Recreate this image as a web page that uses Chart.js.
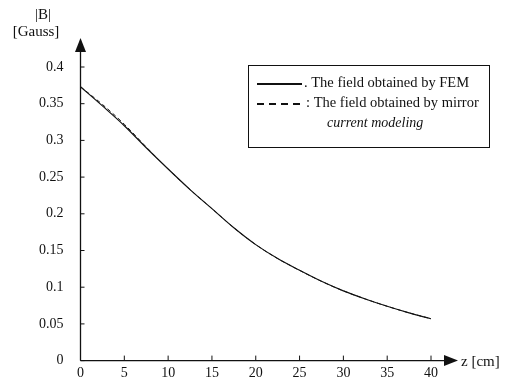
<!DOCTYPE html>
<html>
<head>
<meta charset="utf-8">
<script src="https://cdn.jsdelivr.net/npm/chart.js@4.4.1/dist/chart.umd.min.js"></script>
<style>
  html, body { margin: 0; padding: 0; background: #fff; }
  #wrap { width: 510px; height: 386px; position: relative; }
</style>
</head>
<body>
<div id="wrap"><canvas id="fieldChart"></canvas></div>
<script>
// dados (z em cm, |B| em Gauss)
const zValues = [0, 2.5, 5, 7.5, 10, 12.5, 15, 17.5, 20, 22.5, 25, 27.5, 30, 32.5, 35, 37.5, 40];
const femValues = [0.373, 0.347, 0.320, 0.290, 0.261, 0.233, 0.207, 0.181, 0.158, 0.139, 0.123, 0.108, 0.095, 0.084, 0.074, 0.065, 0.057];
const mirrorValues = [0.373, 0.349, 0.322, 0.291, 0.261, 0.233, 0.207, 0.181, 0.158, 0.139, 0.123, 0.108, 0.095, 0.084, 0.074, 0.065, 0.057];
const xTicks = [0, 5, 10, 15, 20, 25, 30, 35, 40];
const yTicks = [0, 0.05, 0.1, 0.15, 0.2, 0.25, 0.3, 0.35, 0.4];
const legendLabels = ['. The field obtained by FEM', ': The field obtained by mirror'];
const legendExtra = 'current modeling';

const serif = '"Liberation Serif", "DejaVu Serif", serif';
const ink = '#111';

function pontos(valores) {
    return zValues.map((z, i) => ({ x: z, y: valores[i] }));
}

// eixos com setas, marcas internas e caixa de legenda
const eixosPlugin = {
    id: 'eixos',
    afterDraw(chart) {
        const ctx = chart.ctx;
        const xs = chart.scales.x;
        const ys = chart.scales.y;
        const x0 = xs.getPixelForValue(0);
        const y0 = ys.getPixelForValue(0);

        ctx.save();
        ctx.strokeStyle = ink;
        ctx.fillStyle = ink;
        ctx.lineWidth = 1.3;

        // eixo y + seta
        ctx.beginPath();
        ctx.moveTo(x0, y0);
        ctx.lineTo(x0, 50);
        ctx.stroke();
        ctx.beginPath();
        ctx.moveTo(x0, 38);
        ctx.lineTo(x0 - 5.5, 52);
        ctx.lineTo(x0 + 5.5, 52);
        ctx.closePath();
        ctx.fill();

        // eixo x + seta
        ctx.beginPath();
        ctx.moveTo(x0, y0);
        ctx.lineTo(446, y0);
        ctx.stroke();
        ctx.beginPath();
        ctx.moveTo(458, y0);
        ctx.lineTo(444, y0 - 5.5);
        ctx.lineTo(444, y0 + 5.5);
        ctx.closePath();
        ctx.fill();

        // marcas
        ctx.lineWidth = 1;
        xTicks.forEach(v => {
            const px = xs.getPixelForValue(v);
            ctx.beginPath();
            ctx.moveTo(px, y0);
            ctx.lineTo(px, y0 - 5);
            ctx.stroke();
        });
        yTicks.forEach(v => {
            const py = ys.getPixelForValue(v);
            ctx.beginPath();
            ctx.moveTo(x0, py);
            ctx.lineTo(x0 + 4, py);
            ctx.stroke();
        });

        // títulos dos eixos
        ctx.font = '15px ' + serif;
        ctx.textBaseline = 'middle';
        ctx.textAlign = 'center';
        ctx.fillText('|B|', 43, 15);
        ctx.fillText('[Gauss]', 36, 32);
        ctx.textAlign = 'left';
        ctx.fillText('z [cm]', 461, y0 + 1);

        // legenda
        ctx.lineWidth = 1;
        ctx.strokeRect(248.5, 65.5, 241, 82);
        ctx.lineWidth = 2;
        ctx.beginPath();
        ctx.moveTo(257, 84);
        ctx.lineTo(302, 84);
        ctx.stroke();
        ctx.setLineDash([7, 5]);
        ctx.beginPath();
        ctx.moveTo(257, 104);
        ctx.lineTo(304, 104);
        ctx.stroke();
        ctx.setLineDash([]);

        ctx.font = '14.5px ' + serif;
        ctx.fillText(legendLabels[0], 304, 83);
        ctx.fillText(legendLabels[1], 306, 103);
        ctx.font = 'italic 14px ' + serif;
        ctx.fillText(legendExtra, 327, 123);
        ctx.restore();
    }
};

new Chart(document.getElementById('fieldChart'), {
    type: 'line',
    data: {
        datasets: [
            {
                label: 'FEM',
                data: pontos(femValues),
                borderColor: ink,
                borderWidth: 1.2,
                pointRadius: 0,
                cubicInterpolationMode: 'monotone',
                order: 1
            },
            {
                label: 'Mirror current',
                data: pontos(mirrorValues),
                borderColor: ink,
                borderWidth: 1,
                borderDash: [4, 3],
                pointRadius: 0,
                cubicInterpolationMode: 'monotone',
                order: 2
            }
        ]
    },
    options: {
        responsive: true,
        maintainAspectRatio: false,
        animation: false,
        layout: { padding: { left: 22, right: 79, top: 67, bottom: 0 } },
        scales: {
            x: {
                type: 'linear',
                min: 0,
                max: 40,
                afterBuildTicks: s => { s.ticks = xTicks.map(v => ({ value: v })); },
                grid: { display: false, drawTicks: false },
                border: { display: false },
                ticks: { color: ink, padding: 4, font: { family: serif, size: 14 } }
            },
            y: {
                min: 0,
                max: 0.4,
                afterBuildTicks: s => { s.ticks = yTicks.map(v => ({ value: v })); },
                grid: { display: false, drawTicks: false },
                border: { display: false },
                ticks: {
                    color: ink,
                    padding: 17,
                    font: { family: serif, size: 14 },
                    callback: v => String(+v.toFixed(2))
                }
            }
        },
        plugins: {
            legend: { display: false },
            tooltip: { enabled: false }
        }
    },
    plugins: [eixosPlugin]
});
</script>
</body>
</html>
